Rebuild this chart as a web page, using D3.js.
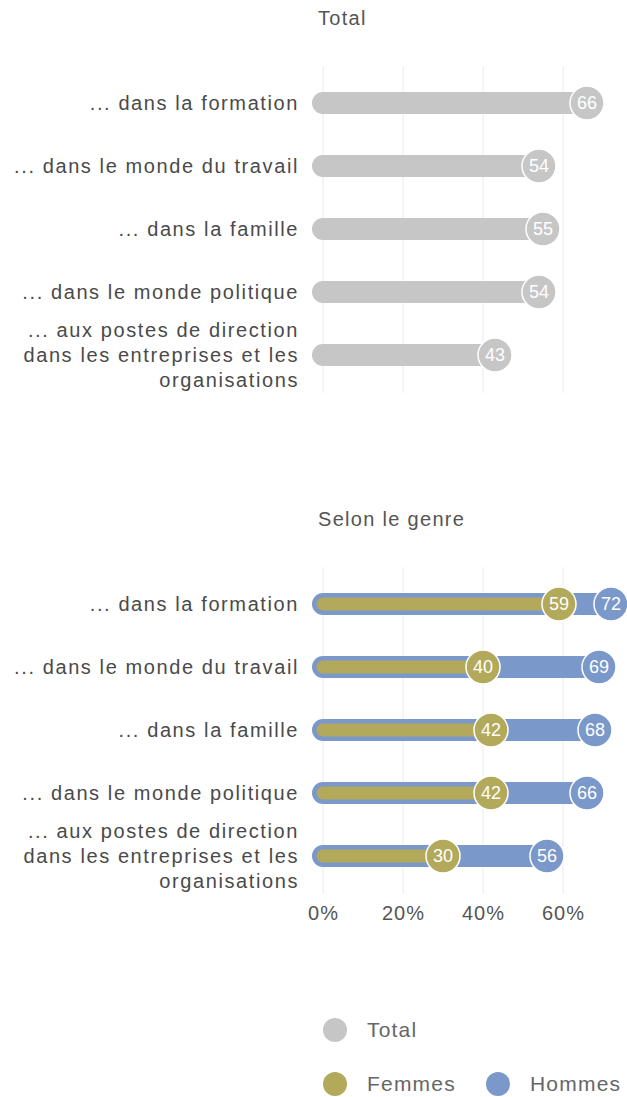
<!DOCTYPE html>
<html>
<head>
<meta charset="utf-8">
<script src="https://cdn.jsdelivr.net/npm/d3@7"></script>
<style>
  body { margin: 0; background: #fff; }
  text { font-family: "Liberation Sans", Arial, sans-serif; }
</style>
</head>
<body>
<svg id="chart" width="627" height="1097"></svg>
<script>
const categories = [
  '... dans la formation',
  '... dans le monde du travail',
  '... dans la famille',
  '... dans le monde politique',
  '... aux postes de direction|dans les entreprises et les|organisations'
]
const totalValues = [66, 54, 55, 54, 43]
const femmesValues = [59, 40, 42, 42, 30]
const hommesValues = [72, 69, 68, 66, 56]
const xTicks = [0, 20, 40, 60]
const titles = ['Total', 'Selon le genre']

const colors = { total: '#c6c6c6', femmes: '#b3a95a', hommes: '#7a98c9' }

const svg = d3.select('#chart')

const x = d3.scaleLinear().domain([0, 60]).range([323, 563])

// draws one panel, returns the y scale
function panel(top, title) {
  const y = d3.scalePoint().domain(d3.range(categories.length)).range([top + 37, top + 289])
  svg.append('text')
    .attr('x', 318)
    .attr('y', top - 48)
    .attr('dy', '0.35em')
    .style('font-size', '20px')
    .style('letter-spacing', '1.3px')
    .style('fill', '#555')
    .text(title)

  // grid
  svg.append('g')
    .selectAll('line')
    .data(xTicks)
    .join('line')
    .attr('x1', (d) => x(d))
    .attr('x2', (d) => x(d))
    .attr('y1', top)
    .attr('y2', top + 327)
    .attr('stroke', '#ebebeb')
    .attr('stroke-width', 1)

  // category labels
  const lab = svg.append('g')
    .selectAll('text')
    .data(categories)
    .join('text')
    .attr('text-anchor', 'end')
    .style('font-size', '20px')
    .style('letter-spacing', '1.6px')
    .style('fill', '#4a4a4a')
  lab.each(function (d, i) {
    const lines = d.split('|')
    const t = d3.select(this)
    lines.forEach((l, j) => {
      t.append('tspan')
        .attr('x', 299)
        .attr('y', y(i) + (j - (lines.length - 1) / 2) * 25)
        .attr('dy', '0.35em')
        .text(l)
    })
  })
  return y
}

function dots(y, values, color) {
  const g = svg.append('g')
  g.selectAll('circle')
    .data(values)
    .join('circle')
    .attr('cx', (d) => x(d))
    .attr('cy', (d, i) => y(i))
    .attr('r', 17)
    .attr('fill', color)
    .attr('stroke', '#fff')
    .attr('stroke-width', 1.5)
  g.selectAll('text')
    .data(values)
    .join('text')
    .attr('x', (d) => x(d))
    .attr('y', (d, i) => y(i))
    .attr('dy', '0.36em')
    .attr('text-anchor', 'middle')
    .style('font-size', '18px')
    .style('fill', '#fff')
    .text((d) => d)
}

function bars(y, values, color, w) {
  svg.append('g')
    .selectAll('line')
    .data(values)
    .join('line')
    .attr('x1', x(0))
    .attr('x2', (d) => x(d))
    .attr('y1', (d, i) => y(i))
    .attr('y2', (d, i) => y(i))
    .attr('stroke', color)
    .attr('stroke-width', w)
    .attr('stroke-linecap', 'round')
}

// Total panel
const y1 = panel(66, titles[0])
bars(y1, totalValues, colors.total, 22)
dots(y1, totalValues, colors.total)

// gender panel
const y2 = panel(567, titles[1])
bars(y2, hommesValues, colors.hommes, 22)
bars(y2, femmesValues, colors.femmes, 13)
dots(y2, hommesValues, colors.hommes)
dots(y2, femmesValues, colors.femmes)

// x axis labels
svg.append('g')
  .selectAll('text')
  .data(xTicks)
  .join('text')
  .attr('x', (d) => x(d) + 0.5)
  .attr('y', 913)
  .attr('dy', '0.35em')
  .attr('text-anchor', 'middle')
  .style('font-size', '20px')
  .style('letter-spacing', '1px')
  .style('fill', '#555')
  .text((d) => d + '%')

// legend
const legend = [
  { name: 'Total', color: colors.total, cx: 335, cy: 1030 },
  { name: 'Femmes', color: colors.femmes, cx: 335, cy: 1084 },
  { name: 'Hommes', color: colors.hommes, cx: 498, cy: 1084 }
]
const lg = svg.append('g').selectAll('g').data(legend).join('g')
lg.append('circle')
  .attr('cx', (d) => d.cx)
  .attr('cy', (d) => d.cy)
  .attr('r', 12)
  .attr('fill', (d) => d.color)
lg.append('text')
  .attr('x', (d) => d.cx + 32)
  .attr('y', (d) => d.cy)
  .attr('dy', '0.35em')
  .style('font-size', '21px')
  .style('letter-spacing', '1.2px')
  .style('fill', '#666')
  .text((d) => d.name)
</script>
</body>
</html>
